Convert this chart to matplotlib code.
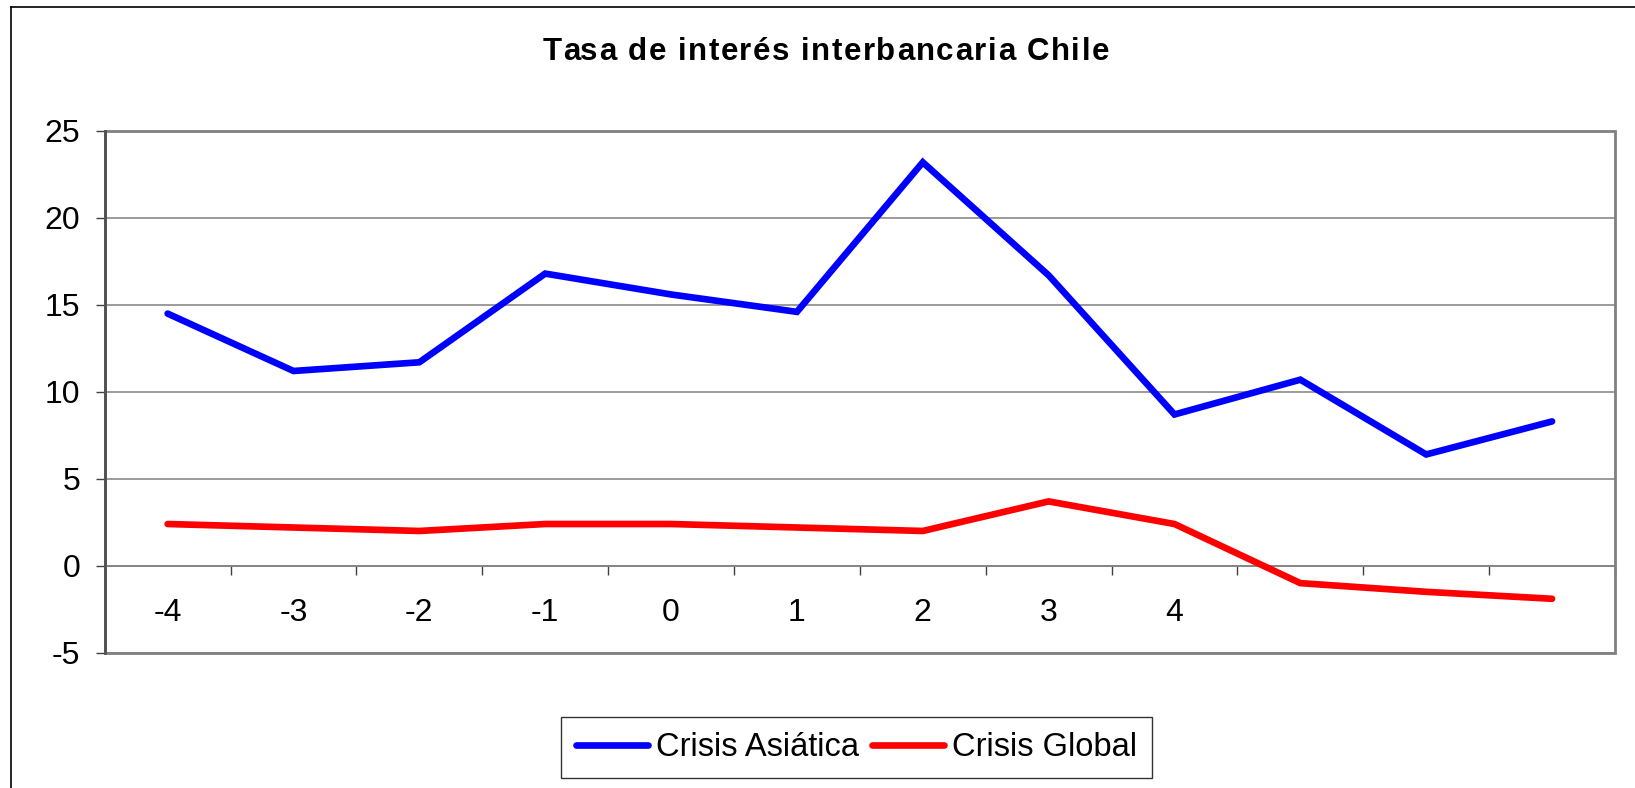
import numpy as np
import matplotlib
matplotlib.use("Agg")
import matplotlib.pyplot as plt
from matplotlib.lines import Line2D
from matplotlib.patches import Rectangle

# ---- data ----
categories = ['-4', '-3', '-2', '-1', '0', '1', '2', '3', '4', '', '', '']
asiatica = [14.5, 11.2, 11.7, 16.8, 15.6, 14.6, 23.2, 16.7, 8.7, 10.7, 6.4, 8.3]
global_ = [2.4, 2.2, 2.0, 2.4, 2.4, 2.2, 2.0, 3.7, 2.4, -1.0, -1.5, -1.9]
series_names = ['Crisis Asiática', 'Crisis Global']
title = 'Tasa de interés interbancaria Chile'
yticks = [-5, 0, 5, 10, 15, 20, 25]

plt.rcParams['font.family'] = ['Liberation Sans', 'DejaVu Sans']

W, H = 1635, 788
fig = plt.figure(figsize=(W / 100, H / 100), dpi=100)
fig.patch.set_facecolor('white')

left, right, top, bottom = 104.7, 1615.0, 131.0, 652.7
ax = fig.add_axes([left / W, 1 - bottom / H, (right - left) / W, (bottom - top) / H])

x = np.arange(len(categories))
ax.plot(x, asiatica, color='#0000FF', lw=4.8, solid_capstyle='round',
        solid_joinstyle='miter', label=series_names[0], zorder=5)
ax.plot(x, global_, color='#FF0000', lw=4.8, solid_capstyle='round',
        solid_joinstyle='miter', label=series_names[1], zorder=5)

ax.set_xlim(-0.5, len(categories) - 0.5)
ax.set_ylim(-5, 25)

# y axis
ax.set_yticks(yticks)
ax.set_yticklabels([str(v) for v in yticks])
ax.yaxis.grid(True, color='#808080', lw=1.1)
ax.set_axisbelow(True)
ax.tick_params(axis='y', direction='out', length=6.5, width=1.0, color='#404040',
               labelsize=23, pad=11, labelcolor='black')

# x axis at zero
ax.spines['bottom'].set_position(('data', 0))
ax.spines['bottom'].set_color('#808080')
ax.spines['bottom'].set_linewidth(1.1)
ax.set_xticks(x)
ax.set_xticklabels(categories)
ax.set_xticks(np.arange(0.5, len(categories) - 0.4, 1.0), minor=True)
ax.tick_params(axis='x', which='major', length=0, labelsize=23, pad=23.5, labelcolor='black')
ax.tick_params(axis='x', which='minor', direction='out', length=6.5, width=1.0, color='#404040')

for s in ['top', 'right', 'left']:
    ax.spines[s].set_visible(False)

# plot area frame
frame = Rectangle((0, 0), 1, 1, transform=ax.transAxes, fill=False,
                  edgecolor='#808080', lw=2.0, zorder=6, clip_on=False)
ax.add_patch(frame)
ax.add_line(Line2D([0, 0], [0, 1], transform=ax.transAxes, color='#505050',
                   lw=2.0, zorder=7, clip_on=False))

# title with slightly widened letter spacing
renderer = fig.canvas.get_renderer()
title_kw = dict(fontsize=22.5, fontweight='bold', color='black')
target_w = 566.0


def text_w(s):
    t = fig.text(0, 0, s, **title_kw)
    w = t.get_window_extent(renderer).width
    t.remove()
    return w


bar_w = text_w('|')
adv = [text_w(title[:i] + '|') - bar_w if i > 0 else 0.0 for i in range(len(title) + 1)]
natural = adv[-1]
gap = max(0.0, (target_w - natural) / (len(title) - 1))
x0 = 826.0 - (natural + gap * (len(title) - 1)) / 2
for i, ch in enumerate(title):
    if ch == ' ':
        continue
    fig.text((x0 + adv[i] + i * gap) / W, 1 - 60.5 / H, ch, ha='left', va='baseline', **title_kw)

# legend
leg = fig.legend(loc='center', bbox_to_anchor=(856.5 / W, 1 - 747.5 / H), ncol=2,
                 fontsize=23.5, frameon=True, fancybox=False, handlelength=2.2,
                 handletextpad=0.25, columnspacing=0.4, borderpad=0.45)
leg.get_frame().set_edgecolor('black')
leg.get_frame().set_linewidth(1.0)

# outer chart border (left and top visible)
fig.add_artist(Line2D([11 / W, 11 / W], [0, 1 - 6.7 / H], transform=fig.transFigure,
                      color='black', lw=1.2))
fig.add_artist(Line2D([11 / W, 1], [1 - 6.7 / H, 1 - 6.7 / H], transform=fig.transFigure,
                      color='black', lw=1.2))

fig.savefig('out.png', dpi=100, facecolor='white')
